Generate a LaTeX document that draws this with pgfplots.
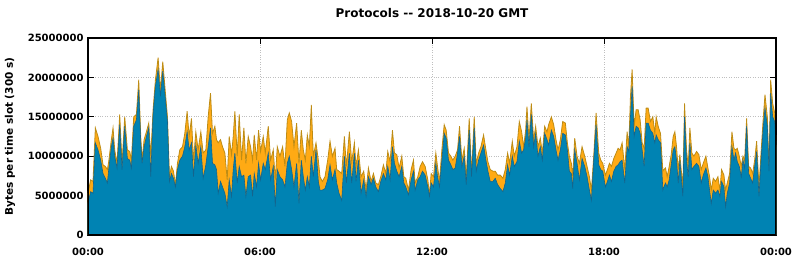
\documentclass[border=0pt]{standalone}
\usepackage{pgfplots}
\usepackage{pgfplotstable}
\pgfplotsset{compat=1.18}
\usepackage{fontspec}
\setmainfont{DejaVu Sans}
\definecolor{cblue}{RGB}{0,131,179}
\definecolor{cblueedge}{RGB}{20,100,140}
\definecolor{corange}{RGB}{255,170,20}
\definecolor{coredge}{RGB}{190,140,20}
\pgfplotstableread{
x total blue
0 5.3 4.0
8 7.0 5.5
15 6.8 5.3
22 13.6 11.7
30 12.5 10.8
38 11.0 9.5
45 8.9 7.8
52 8.7 7.2
58 8.3 6.6
62 9.3 8.3
70 12.1 11.2
75 13.6 12.3
80 10.8 10.0
87 9.1 8.5
95 15.3 14.0
102 9.1 8.3
110 15.0 13.8
118 10.8 9.7
125 10.6 9.5
130 9.5 8.5
137 15.0 13.8
145 15.3 14.6
152 19.7 18.4
158 12.5 11.7
162 9.5 9.1
168 12.1 11.2
175 13.1 12.5
182 14.2 13.6
188 10.0 7.4
195 15.9 15.3
202 19.7 18.9
210 22.5 21.0
217 18.4 17.6
224 22.0 20.8
232 18.0 17.2
238 15.0 14.4
244 7.4 6.8
250 8.7 7.8
256 8.1 7.2
262 6.4 6.1
268 9.1 8.3
275 10.8 9.5
283 11.2 10.0
290 12.9 11.2
297 15.7 13.1
303 12.5 10.8
310 14.8 11.7
316 9.5 7.4
323 13.1 11.4
330 10.8 9.1
338 13.1 11.2
345 10.4 7.2
353 10.8 8.9
360 15.0 11.2
367 18.0 13.6
373 12.9 9.1
380 13.8 8.9
385 12.1 8.3
390 11.7 5.3
397 12.1 6.8
403 11.2 6.1
410 10.4 5.3
417 7.0 3.6
423 12.5 7.0
430 10.2 4.9
435 12.5 8.3
440 15.7 10.4
447 10.0 6.6
453 15.3 8.7
460 9.5 7.4
467 13.6 7.6
473 9.1 4.9
480 12.5 7.4
487 11.2 7.6
493 9.5 4.9
498 12.7 7.8
505 9.5 6.1
511 13.3 9.1
517 10.6 7.0
525 12.5 9.1
531 10.4 8.3
540 13.8 10.4
547 9.5 7.0
555 10.8 8.7
561 7.0 3.6
567 11.2 8.3
575 10.0 7.4
583 11.2 7.0
590 8.7 6.1
597 14.6 9.1
603 15.5 10.0
610 14.4 8.3
617 11.2 6.1
625 14.2 9.1
632 9.1 4.0
639 13.3 9.5
645 10.8 7.4
651 9.5 5.7
657 12.7 7.4
663 11.2 6.1
669 16.5 10.0
675 10.0 7.4
683 11.7 10.8
690 9.5 6.8
695 7.4 5.7
702 6.8 5.7
710 7.4 5.9
718 9.5 7.0
725 11.9 8.9
732 10.0 7.0
740 11.0 8.3
745 8.3 6.6
752 8.1 5.3
760 7.8 4.4
768 12.5 10.0
774 8.7 6.6
783 13.1 10.4
790 9.3 6.6
798 11.7 10.4
803 8.7 6.8
810 10.8 9.5
818 7.4 5.3
826 8.1 7.0
833 5.7 4.9
840 8.5 7.4
848 6.8 6.4
855 7.8 7.2
862 6.6 6.1
870 6.4 5.5
877 7.4 6.8
885 8.9 7.8
892 7.8 7.0
898 10.6 8.7
905 9.3 7.0
912 13.3 11.2
918 10.4 9.1
925 10.2 8.1
932 8.5 7.4
940 10.0 8.7
946 7.4 6.6
952 7.2 6.1
960 5.7 5.1
968 8.3 7.0
975 9.5 8.1
980 6.6 5.7
988 7.4 7.0
995 8.7 7.4
1002 9.3 8.1
1010 8.7 7.6
1018 7.0 6.1
1023 5.1 4.9
1028 7.8 6.6
1035 7.4 6.1
1042 10.4 9.1
1047 8.7 7.4
1053 6.8 6.1
1060 10.8 9.5
1067 14.0 12.9
1073 13.3 12.3
1080 10.4 9.5
1087 10.0 8.9
1093 9.5 8.3
1100 10.0 8.5
1107 10.8 10.4
1113 13.8 12.5
1120 9.5 8.7
1127 11.0 10.0
1133 7.2 6.4
1142 14.8 13.3
1149 7.8 7.4
1157 15.0 13.6
1163 9.1 8.1
1170 10.4 9.5
1177 11.2 10.4
1185 12.7 11.4
1192 10.8 9.5
1198 9.3 8.1
1205 8.3 6.8
1213 8.1 6.8
1220 8.1 7.2
1227 7.6 6.4
1235 7.6 5.9
1243 7.2 5.5
1250 8.3 6.6
1257 10.4 8.9
1263 9.1 7.6
1271 11.9 10.0
1277 10.0 8.7
1285 11.2 9.3
1292 14.4 11.9
1299 13.1 10.4
1305 11.2 10.8
1311 13.3 12.3
1315 16.3 14.6
1321 12.1 11.2
1328 16.7 15.3
1335 12.1 11.2
1341 13.8 12.9
1348 11.2 10.0
1355 12.3 11.2
1361 10.4 9.5
1368 13.8 12.9
1375 13.1 12.1
1380 14.0 11.4
1388 15.0 13.3
1395 14.0 12.5
1402 12.1 10.8
1408 10.8 9.5
1415 12.1 10.8
1422 14.4 12.9
1430 14.2 12.7
1436 11.7 10.8
1442 10.0 8.1
1448 9.1 7.8
1452 7.4 5.9
1458 12.3 10.8
1465 10.0 9.1
1472 9.1 7.0
1480 11.2 9.7
1488 10.0 8.7
1495 8.7 7.4
1502 7.4 5.7
1508 5.7 4.4
1515 10.0 9.5
1522 15.5 14.0
1530 10.4 8.9
1536 9.5 8.3
1542 9.1 8.1
1550 7.6 6.1
1556 8.3 6.8
1562 9.1 7.6
1568 8.7 6.8
1575 9.7 8.1
1582 10.4 8.7
1588 11.0 8.9
1594 10.8 9.3
1600 11.7 9.5
1608 8.3 6.6
1615 13.1 11.2
1620 11.2 10.6
1625 17.6 15.0
1630 21.0 18.9
1636 13.8 12.5
1642 15.9 13.8
1648 15.9 13.6
1654 14.6 12.9
1660 11.7 10.8
1666 11.0 8.7
1672 16.1 14.2
1678 16.1 14.2
1685 14.4 13.3
1692 15.0 12.9
1698 12.9 11.7
1702 15.0 12.7
1708 13.8 12.1
1715 12.9 11.7
1722 8.1 5.7
1725 8.3 6.1
1730 8.5 6.6
1735 7.4 6.1
1741 8.7 7.0
1747 10.2 8.9
1753 12.5 10.8
1758 13.1 11.2
1763 11.2 9.5
1768 8.3 6.6
1773 10.2 9.5
1777 8.3 7.4
1782 6.1 4.9
1787 16.7 15.0
1793 10.8 9.5
1798 8.7 7.4
1803 13.6 11.7
1809 10.4 8.3
1815 10.0 8.7
1823 10.6 9.1
1830 10.2 8.7
1837 8.3 6.6
1843 9.1 7.6
1851 10.0 8.5
1857 8.5 7.4
1862 7.4 5.7
1867 5.7 4.0
1873 7.2 5.7
1880 6.8 5.3
1887 7.4 5.7
1893 5.7 4.9
1898 8.3 6.8
1905 7.6 6.1
1910 5.7 3.6
1915 6.6 5.3
1922 7.8 6.6
1929 13.1 11.2
1935 11.0 9.5
1940 10.8 10.4
1945 11.0 9.3
1951 10.0 8.7
1957 8.7 7.4
1962 10.0 9.5
1967 9.5 8.5
1973 14.8 13.8
1979 8.7 7.8
1985 8.5 7.2
1991 7.8 6.6
1997 9.5 8.7
2003 11.9 10.6
2010 6.1 4.9
2017 11.0 10.0
2023 15.0 13.8
2028 17.8 16.1
2035 15.0 13.8
2040 8.3 8.1
2045 19.7 18.0
2051 16.7 15.0
2057 15.5 14.4
2061 11.4 11.2
}\traffic
\begin{document}
\begin{tikzpicture}
\path[use as bounding box] (-88pt,-25pt) rectangle (706pt,235pt);
\begin{axis}[
  at={(0pt,0pt)}, anchor=south west,
  scale only axis, width=688pt, height=197pt,
  xmin=0, xmax=2061, ymin=0, ymax=25,
  xtick={0,515.25,1030.5,1545.75,2061},
  xticklabels={00:00,06:00,12:00,18:00,00:00},
  ytick={0,5,10,15,20,25},
  yticklabels={0,5000000,10000000,15000000,20000000,25000000},
  tick align=inside, major tick length=6pt,
  tick style={black, line width=0.9pt},
  axis line style={line width=1.2pt},
  grid=major, major grid style={dotted, gray!50, line width=0.8pt},
  ticklabel style={font=\fontsize{10}{12}\selectfont\bfseries},
  yticklabel style={xshift=-1pt},
  xticklabel style={yshift=-10pt},
  title={Protocols -{}- 2018-10-20 GMT},
  title style={font=\fontsize{12}{14}\selectfont\bfseries, at={(0.5,1)}, anchor=south, yshift=11pt},
  ylabel={Bytes per time slot (300 s)},
  ylabel style={font=\fontsize{10.5}{12}\selectfont\bfseries, at={(axis description cs:-0.1134,0.5)}, anchor=center},
]
\addplot[fill=corange, draw=coredge, line width=0.8pt] table[x=x,y=total] {\traffic} \closedcycle;
\addplot[fill=cblue, draw=cblueedge, line width=0.6pt] table[x=x,y=blue] {\traffic} \closedcycle;
\draw[line width=1.2pt] (rel axis cs:0,0) rectangle (rel axis cs:1,1);
\end{axis}
\end{tikzpicture}
\end{document}
